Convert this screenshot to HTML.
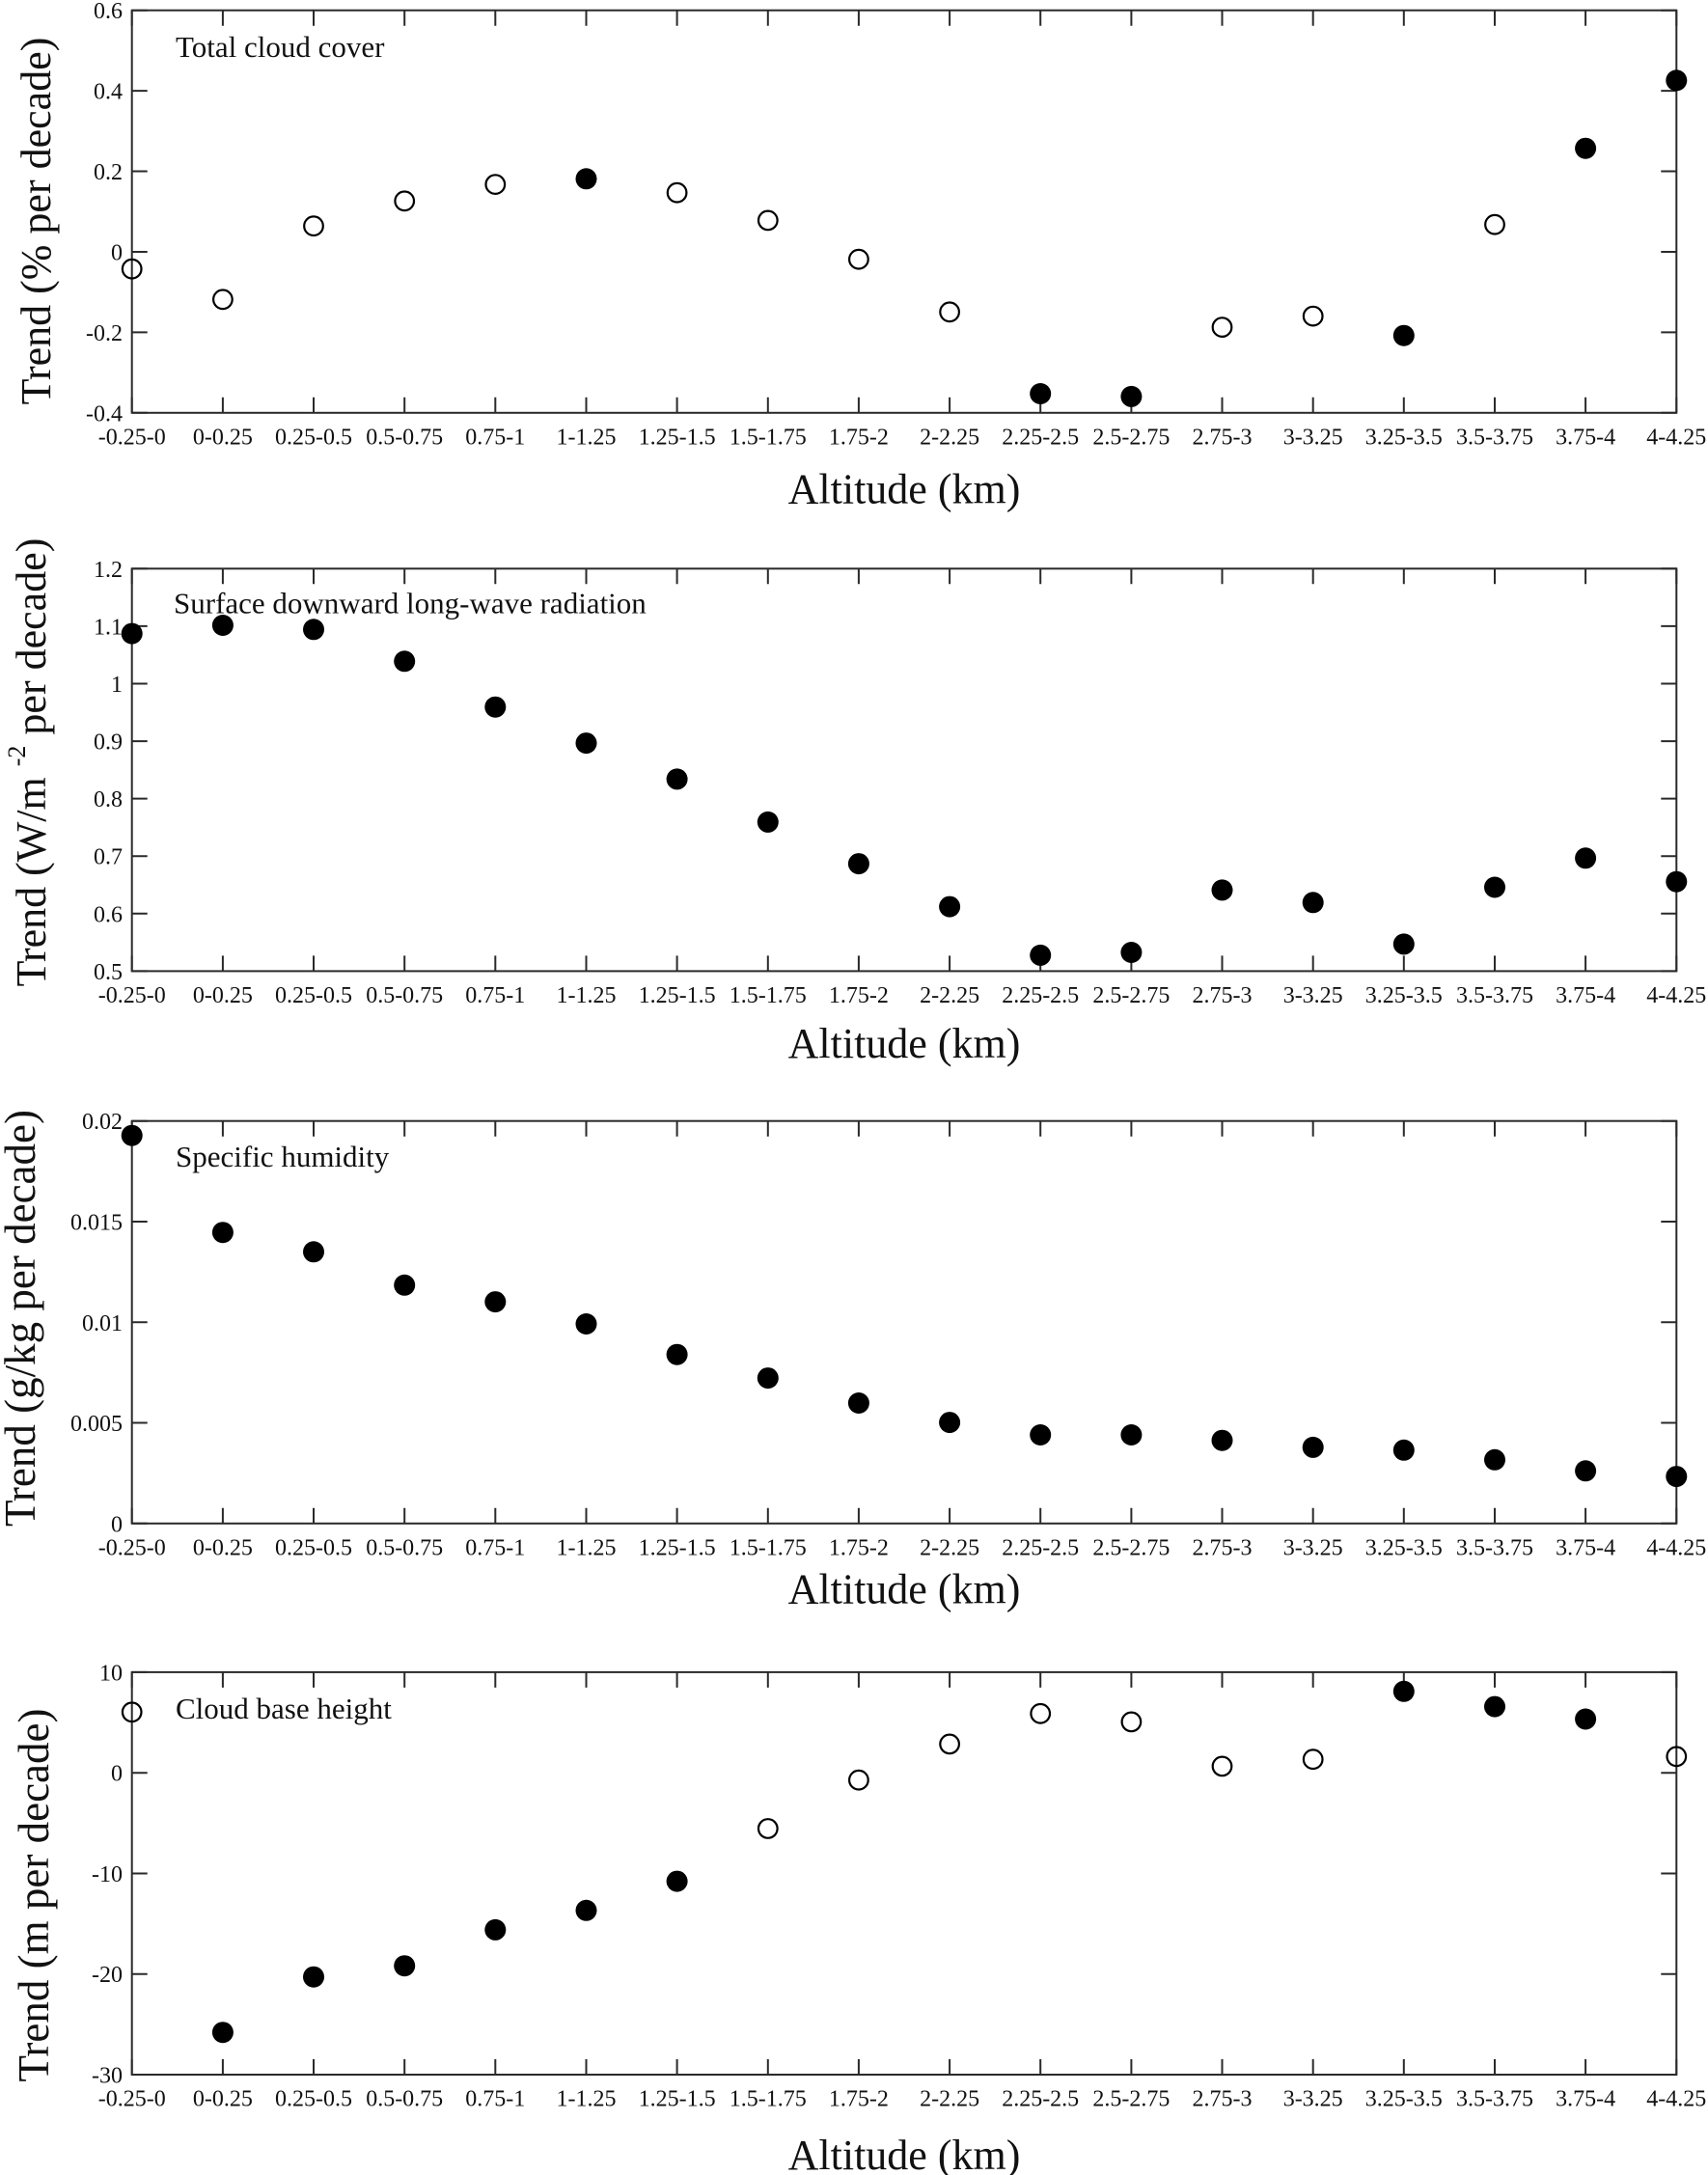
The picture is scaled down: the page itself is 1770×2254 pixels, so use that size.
<!DOCTYPE html>
<html>
<head>
<meta charset="utf-8">
<style>
html,body{margin:0;padding:0;background:#fff;}
svg{display:block;}
text{font-family:"Liberation Serif","Times New Roman",serif;fill:#111;}
.yl{font-size:24px;text-anchor:end;}
.xl{font-size:24px;text-anchor:middle;}
.al{font-size:44px;text-anchor:middle;}
.yt{font-size:44px;text-anchor:middle;}
.ti{font-size:31px;}
.ax{fill:none;stroke:#2a2a2a;stroke-width:2;}
.f{fill:#000;}
.o{fill:none;stroke:#000;stroke-width:2.2;}
</style>
</head>
<body>
<svg width="1770" height="2254" viewBox="0 0 1770 2254" xmlns="http://www.w3.org/2000/svg">
<defs>
<g id="fr">
<rect class="ax" x="136.7" y="0" width="1600.6" height="417.1"/>
<path class="ax" d="M136.7 0v16M230.9 0v16M325 0v16M419.2 0v16M513.3 0v16M607.5 0v16M701.6 0v16M795.8 0v16M889.9 0v16M984.1 0v16M1078.2 0v16M1172.4 0v16M1266.5 0v16M1360.7 0v16M1454.8 0v16M1549 0v16M1643.1 0v16M1737.3 0v16M136.7 417.1v-16M230.9 417.1v-16M325 417.1v-16M419.2 417.1v-16M513.3 417.1v-16M607.5 417.1v-16M701.6 417.1v-16M795.8 417.1v-16M889.9 417.1v-16M984.1 417.1v-16M1078.2 417.1v-16M1172.4 417.1v-16M1266.5 417.1v-16M1360.7 417.1v-16M1454.8 417.1v-16M1549 417.1v-16M1643.1 417.1v-16M1737.3 417.1v-16"/>
</g>
</defs>

<!-- ================= Panel 1 ================= -->
<use href="#fr" x="0" y="10.7"/>
<path class="ax" d="M136.7 10.7h16M136.7 94.1h16M136.7 177.5h16M136.7 261h16M136.7 344.4h16M136.7 427.8h16M1737.3 10.7h-16M1737.3 94.1h-16M1737.3 177.5h-16M1737.3 261h-16M1737.3 344.4h-16M1737.3 427.8h-16"/>
<text class="yl" x="127" y="19.2">0.6</text>
<text class="yl" x="127" y="102.6">0.4</text>
<text class="yl" x="127" y="186">0.2</text>
<text class="yl" x="127" y="269.5">0</text>
<text class="yl" x="127" y="352.9">-0.2</text>
<text class="yl" x="127" y="436.3">-0.4</text>
<text class="xl" x="136.7" y="460.3">-0.25-0</text>
<text class="xl" x="230.9" y="460.3">0-0.25</text>
<text class="xl" x="325" y="460.3">0.25-0.5</text>
<text class="xl" x="419.2" y="460.3">0.5-0.75</text>
<text class="xl" x="513.3" y="460.3">0.75-1</text>
<text class="xl" x="607.5" y="460.3">1-1.25</text>
<text class="xl" x="701.6" y="460.3">1.25-1.5</text>
<text class="xl" x="795.8" y="460.3">1.5-1.75</text>
<text class="xl" x="889.9" y="460.3">1.75-2</text>
<text class="xl" x="984.1" y="460.3">2-2.25</text>
<text class="xl" x="1078.2" y="460.3">2.25-2.5</text>
<text class="xl" x="1172.4" y="460.3">2.5-2.75</text>
<text class="xl" x="1266.5" y="460.3">2.75-3</text>
<text class="xl" x="1360.7" y="460.3">3-3.25</text>
<text class="xl" x="1454.8" y="460.3">3.25-3.5</text>
<text class="xl" x="1549" y="460.3">3.5-3.75</text>
<text class="xl" x="1643.1" y="460.3">3.75-4</text>
<text class="xl" x="1737.3" y="460.3">4-4.25</text>
<text class="al" x="937" y="521.7">Altitude (km)</text>
<text class="ti" x="182" y="59.2">Total cloud cover</text>
<text class="yt" transform="translate(52,229) rotate(-90)">Trend (% per decade)</text>
<g>
<circle class="o" cx="136.7" cy="278.7" r="9.8"/>
<circle class="o" cx="230.9" cy="310.3" r="9.8"/>
<circle class="o" cx="325" cy="234.2" r="9.8"/>
<circle class="o" cx="419.2" cy="208.3" r="9.8"/>
<circle class="o" cx="513.3" cy="191.1" r="9.8"/>
<circle class="f" cx="607.5" cy="185.3" r="11"/>
<circle class="o" cx="701.6" cy="199.7" r="9.8"/>
<circle class="o" cx="795.8" cy="228.4" r="9.8"/>
<circle class="o" cx="889.9" cy="268.7" r="9.8"/>
<circle class="o" cx="984.1" cy="323.3" r="9.8"/>
<circle class="f" cx="1078.2" cy="408" r="11"/>
<circle class="f" cx="1172.4" cy="410.9" r="11"/>
<circle class="o" cx="1266.5" cy="339.1" r="9.8"/>
<circle class="o" cx="1360.7" cy="327.6" r="9.8"/>
<circle class="f" cx="1454.8" cy="347.7" r="11"/>
<circle class="o" cx="1549" cy="232.7" r="9.8"/>
<circle class="f" cx="1643.1" cy="153.7" r="11"/>
<circle class="f" cx="1737.3" cy="83.3" r="11"/>
</g>

<!-- ================= Panel 2 ================= -->
<use href="#fr" x="0" y="589.3"/>
<path class="ax" d="M136.7 589.3h16M136.7 648.9h16M136.7 708.5h16M136.7 768.1h16M136.7 827.6h16M136.7 887.2h16M136.7 946.8h16M136.7 1006.4h16M1737.3 589.3h-16M1737.3 648.9h-16M1737.3 708.5h-16M1737.3 768.1h-16M1737.3 827.6h-16M1737.3 887.2h-16M1737.3 946.8h-16M1737.3 1006.4h-16"/>
<text class="yl" x="127" y="597.8">1.2</text>
<text class="yl" x="127" y="657.4">1.1</text>
<text class="yl" x="127" y="717">1</text>
<text class="yl" x="127" y="776.6">0.9</text>
<text class="yl" x="127" y="836.1">0.8</text>
<text class="yl" x="127" y="895.7">0.7</text>
<text class="yl" x="127" y="955.3">0.6</text>
<text class="yl" x="127" y="1014.9">0.5</text>
<text class="xl" x="136.7" y="1038.9">-0.25-0</text>
<text class="xl" x="230.9" y="1038.9">0-0.25</text>
<text class="xl" x="325" y="1038.9">0.25-0.5</text>
<text class="xl" x="419.2" y="1038.9">0.5-0.75</text>
<text class="xl" x="513.3" y="1038.9">0.75-1</text>
<text class="xl" x="607.5" y="1038.9">1-1.25</text>
<text class="xl" x="701.6" y="1038.9">1.25-1.5</text>
<text class="xl" x="795.8" y="1038.9">1.5-1.75</text>
<text class="xl" x="889.9" y="1038.9">1.75-2</text>
<text class="xl" x="984.1" y="1038.9">2-2.25</text>
<text class="xl" x="1078.2" y="1038.9">2.25-2.5</text>
<text class="xl" x="1172.4" y="1038.9">2.5-2.75</text>
<text class="xl" x="1266.5" y="1038.9">2.75-3</text>
<text class="xl" x="1360.7" y="1038.9">3-3.25</text>
<text class="xl" x="1454.8" y="1038.9">3.25-3.5</text>
<text class="xl" x="1549" y="1038.9">3.5-3.75</text>
<text class="xl" x="1643.1" y="1038.9">3.75-4</text>
<text class="xl" x="1737.3" y="1038.9">4-4.25</text>
<text class="al" x="937" y="1096">Altitude (km)</text>
<text class="ti" x="180" y="635.7">Surface downward long-wave radiation</text>
<text class="yt" transform="translate(47,790) rotate(-90)"><tspan>Trend (W/m </tspan><tspan dy="-21" style="font-size:26px">-2</tspan><tspan dy="21"> per decade)</tspan></text>
<g class="f">
<circle cx="136.7" cy="656.6" r="11"/>
<circle cx="230.9" cy="648" r="11"/>
<circle cx="325" cy="652.3" r="11"/>
<circle cx="419.2" cy="685.3" r="11"/>
<circle cx="513.3" cy="732.7" r="11"/>
<circle cx="607.5" cy="770.1" r="11"/>
<circle cx="701.6" cy="807.4" r="11"/>
<circle cx="795.8" cy="851.9" r="11"/>
<circle cx="889.9" cy="895.1" r="11"/>
<circle cx="984.1" cy="939.6" r="11"/>
<circle cx="1078.2" cy="989.9" r="11"/>
<circle cx="1172.4" cy="987" r="11"/>
<circle cx="1266.5" cy="922.4" r="11"/>
<circle cx="1360.7" cy="935.3" r="11"/>
<circle cx="1454.8" cy="978.4" r="11"/>
<circle cx="1549" cy="919.5" r="11"/>
<circle cx="1643.1" cy="889.3" r="11"/>
<circle cx="1737.3" cy="913.7" r="11"/>
</g>

<!-- ================= Panel 3 ================= -->
<use href="#fr" x="0" y="1161.7"/>
<path class="ax" d="M136.7 1161.7h16M136.7 1266h16M136.7 1370.3h16M136.7 1474.5h16M136.7 1578.8h16M1737.3 1161.7h-16M1737.3 1266h-16M1737.3 1370.3h-16M1737.3 1474.5h-16M1737.3 1578.8h-16"/>
<text class="yl" x="127" y="1170.2">0.02</text>
<text class="yl" x="127" y="1274.5">0.015</text>
<text class="yl" x="127" y="1378.8">0.01</text>
<text class="yl" x="127" y="1483">0.005</text>
<text class="yl" x="127" y="1587.3">0</text>
<text class="xl" x="136.7" y="1611.3">-0.25-0</text>
<text class="xl" x="230.9" y="1611.3">0-0.25</text>
<text class="xl" x="325" y="1611.3">0.25-0.5</text>
<text class="xl" x="419.2" y="1611.3">0.5-0.75</text>
<text class="xl" x="513.3" y="1611.3">0.75-1</text>
<text class="xl" x="607.5" y="1611.3">1-1.25</text>
<text class="xl" x="701.6" y="1611.3">1.25-1.5</text>
<text class="xl" x="795.8" y="1611.3">1.5-1.75</text>
<text class="xl" x="889.9" y="1611.3">1.75-2</text>
<text class="xl" x="984.1" y="1611.3">2-2.25</text>
<text class="xl" x="1078.2" y="1611.3">2.25-2.5</text>
<text class="xl" x="1172.4" y="1611.3">2.5-2.75</text>
<text class="xl" x="1266.5" y="1611.3">2.75-3</text>
<text class="xl" x="1360.7" y="1611.3">3-3.25</text>
<text class="xl" x="1454.8" y="1611.3">3.25-3.5</text>
<text class="xl" x="1549" y="1611.3">3.5-3.75</text>
<text class="xl" x="1643.1" y="1611.3">3.75-4</text>
<text class="xl" x="1737.3" y="1611.3">4-4.25</text>
<text class="al" x="937" y="1661.7">Altitude (km)</text>
<text class="ti" x="182" y="1209.2">Specific humidity</text>
<text class="yt" transform="translate(36,1366) rotate(-90)" style="font-size:45px">Trend (g/kg per decade)</text>
<g class="f">
<circle cx="136.7" cy="1176.7" r="11"/>
<circle cx="230.9" cy="1277.2" r="11"/>
<circle cx="325" cy="1297.3" r="11"/>
<circle cx="419.2" cy="1331.8" r="11"/>
<circle cx="513.3" cy="1349.1" r="11"/>
<circle cx="607.5" cy="1372" r="11"/>
<circle cx="701.6" cy="1403.7" r="11"/>
<circle cx="795.8" cy="1428.1" r="11"/>
<circle cx="889.9" cy="1454" r="11"/>
<circle cx="984.1" cy="1474.1" r="11"/>
<circle cx="1078.2" cy="1487" r="11"/>
<circle cx="1172.4" cy="1487" r="11"/>
<circle cx="1266.5" cy="1492.7" r="11"/>
<circle cx="1360.7" cy="1499.9" r="11"/>
<circle cx="1454.8" cy="1502.8" r="11"/>
<circle cx="1549" cy="1512.8" r="11"/>
<circle cx="1643.1" cy="1524.3" r="11"/>
<circle cx="1737.3" cy="1530.1" r="11"/>
</g>

<!-- ================= Panel 4 ================= -->
<use href="#fr" x="0" y="1732.9"/>
<path class="ax" d="M136.7 1732.9h16M136.7 1837.2h16M136.7 1941.5h16M136.7 2045.7h16M136.7 2150h16M1737.3 1732.9h-16M1737.3 1837.2h-16M1737.3 1941.5h-16M1737.3 2045.7h-16M1737.3 2150h-16"/>
<text class="yl" x="127" y="1741.4">10</text>
<text class="yl" x="127" y="1845.7">0</text>
<text class="yl" x="127" y="1950">-10</text>
<text class="yl" x="127" y="2054.2">-20</text>
<text class="yl" x="127" y="2158.5">-30</text>
<text class="xl" x="136.7" y="2182.5">-0.25-0</text>
<text class="xl" x="230.9" y="2182.5">0-0.25</text>
<text class="xl" x="325" y="2182.5">0.25-0.5</text>
<text class="xl" x="419.2" y="2182.5">0.5-0.75</text>
<text class="xl" x="513.3" y="2182.5">0.75-1</text>
<text class="xl" x="607.5" y="2182.5">1-1.25</text>
<text class="xl" x="701.6" y="2182.5">1.25-1.5</text>
<text class="xl" x="795.8" y="2182.5">1.5-1.75</text>
<text class="xl" x="889.9" y="2182.5">1.75-2</text>
<text class="xl" x="984.1" y="2182.5">2-2.25</text>
<text class="xl" x="1078.2" y="2182.5">2.25-2.5</text>
<text class="xl" x="1172.4" y="2182.5">2.5-2.75</text>
<text class="xl" x="1266.5" y="2182.5">2.75-3</text>
<text class="xl" x="1360.7" y="2182.5">3-3.25</text>
<text class="xl" x="1454.8" y="2182.5">3.25-3.5</text>
<text class="xl" x="1549" y="2182.5">3.5-3.75</text>
<text class="xl" x="1643.1" y="2182.5">3.75-4</text>
<text class="xl" x="1737.3" y="2182.5">4-4.25</text>
<text class="al" x="937" y="2248">Altitude (km)</text>
<text class="ti" x="182" y="1781">Cloud base height</text>
<text class="yt" transform="translate(50,1964) rotate(-90)" style="font-size:45px">Trend (m per decade)</text>
<g>
<circle class="o" cx="136.7" cy="1774.3" r="9.8"/>
<circle class="f" cx="230.9" cy="2106.2" r="11"/>
<circle class="f" cx="325" cy="2048.7" r="11"/>
<circle class="f" cx="419.2" cy="2037.2" r="11"/>
<circle class="f" cx="513.3" cy="1999.9" r="11"/>
<circle class="f" cx="607.5" cy="1979.8" r="11"/>
<circle class="f" cx="701.6" cy="1949.6" r="11"/>
<circle class="o" cx="795.8" cy="1895" r="9.8"/>
<circle class="o" cx="889.9" cy="1844.7" r="9.8"/>
<circle class="o" cx="984.1" cy="1807.4" r="9.8"/>
<circle class="o" cx="1078.2" cy="1775.8" r="9.8"/>
<circle class="o" cx="1172.4" cy="1784.4" r="9.8"/>
<circle class="o" cx="1266.5" cy="1830.4" r="9.8"/>
<circle class="o" cx="1360.7" cy="1823.2" r="9.8"/>
<circle class="f" cx="1454.8" cy="1752.8" r="11"/>
<circle class="f" cx="1549" cy="1768.6" r="11"/>
<circle class="f" cx="1643.1" cy="1781.5" r="11"/>
<circle class="o" cx="1737.3" cy="1820.3" r="9.8"/>
</g>
</svg>
</body>
</html>
